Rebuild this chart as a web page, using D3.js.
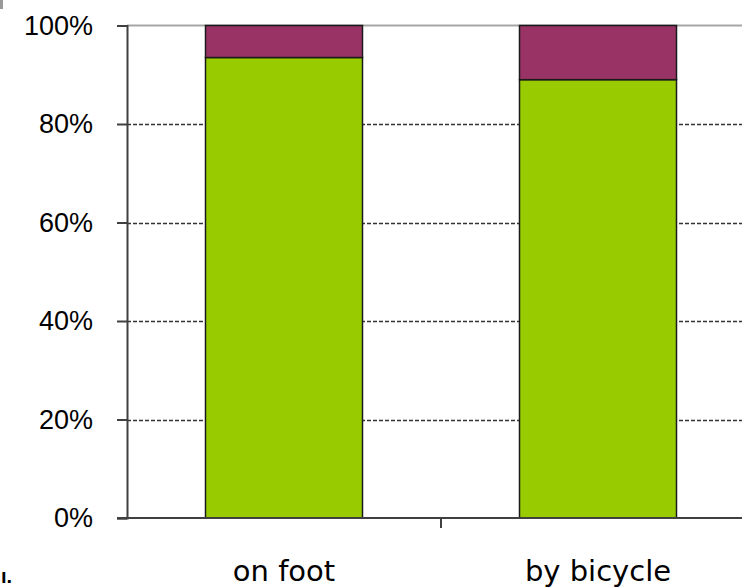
<!DOCTYPE html>
<html>
<head>
<meta charset="utf-8">
<script src="https://cdn.jsdelivr.net/npm/d3@7"></script>
<style>
  body { margin: 0; background: #fff; }
  svg { display: block; }
</style>
</head>
<body>
<div id="chart"></div>
<script>
// chart data
const categories = ['on foot', 'by bicycle'];
const seriesLower = [0.935, 0.89];   // green part
const seriesUpper = [0.065, 0.11];   // purple part
const tickValues = [0, 0.2, 0.4, 0.6, 0.8, 1];

const width = 742, height = 587;
const plotLeft = 127, plotRight = 755, plotTop = 25.5, plotBottom = 518;

const svg = d3.select('#chart').append('svg')
  .attr('width', width)
  .attr('height', height);

const y = d3.scaleLinear().domain([0, 1]).range([plotBottom, plotTop]);
const x = d3.scaleBand()
  .domain(categories)
  .range([plotLeft, plotRight])
  .paddingInner(0.5)
  .paddingOuter(0.25);

// dashed gridlines
svg.append('g')
  .selectAll('line')
  .data(tickValues.filter(d => d > 0 && d < 1))
  .enter().append('line')
    .attr('x1', plotLeft).attr('x2', width)
    .attr('y1', d => Math.round(y(d)) + 0.5)
    .attr('y2', d => Math.round(y(d)) + 0.5)
    .style('stroke', '#333')
    .style('stroke-width', 1.3)
    .style('stroke-dasharray', '4,2');

// top border line
svg.append('line')
  .attr('x1', plotLeft).attr('x2', width)
  .attr('y1', y(1)).attr('y2', y(1))
  .style('stroke', '#a6a6a6')
  .style('stroke-width', 2);

// stacked bars
const stacked = categories.map((c, i) => ({
  cat: c,
  parts: [
    { y0: 0, y1: seriesLower[i], color: '#99cc00' },
    { y0: seriesLower[i], y1: seriesLower[i] + seriesUpper[i], color: '#993366' }
  ]
}));

svg.append('g')
  .selectAll('g')
  .data(stacked)
  .enter().append('g')
  .selectAll('rect')
  .data(d => d.parts.map(p => Object.assign({ cat: d.cat }, p)))
  .enter().append('rect')
    .attr('x', d => x(d.cat))
    .attr('width', x.bandwidth())
    .attr('y', d => y(d.y1))
    .attr('height', d => y(d.y0) - y(d.y1))
    .style('fill', d => d.color)
    .style('stroke', '#1a1a1a')
    .style('stroke-width', 1.5);

// y axis
const yAxis = svg.append('g')
  .attr('transform', `translate(${plotLeft},0)`)
  .call(d3.axisLeft(y).tickValues(tickValues).tickFormat(d3.format('.0%')).tickSize(10).tickPadding(24));
yAxis.select('.domain').style('stroke', '#404040').style('stroke-width', 2);
yAxis.selectAll('.tick line').style('stroke', '#404040').style('stroke-width', 2);
yAxis.selectAll('text')
  .style('font-family', 'Liberation Sans, Arial, sans-serif')
  .style('font-size', '27px')
  .style('fill', '#000');

// x axis line and category separator tick
svg.append('line')
  .attr('x1', plotLeft - 10).attr('x2', width)
  .attr('y1', plotBottom).attr('y2', plotBottom)
  .style('stroke', '#404040')
  .style('stroke-width', 2);

const step = x.step();
svg.append('g')
  .selectAll('line')
  .data(categories.slice(1))
  .enter().append('line')
    .attr('x1', d => x(d) - (step - x.bandwidth()) / 2)
    .attr('x2', d => x(d) - (step - x.bandwidth()) / 2)
    .attr('y1', plotBottom).attr('y2', plotBottom + 10)
    .style('stroke', '#404040')
    .style('stroke-width', 2);

// category labels
svg.append('g')
  .selectAll('text')
  .data(categories)
  .enter().append('text')
    .attr('x', d => x(d) + x.bandwidth() / 2)
    .attr('y', 581)
    .attr('text-anchor', 'middle')
    .style('font-family', 'DejaVu Sans, Verdana, sans-serif')
    .style('font-size', '29px')
    .style('fill', '#000')
    .text(d => d);

// stray marks at the edges of the original crop
svg.append('rect').attr('x', 0).attr('y', 0).attr('width', 3).attr('height', 9).style('fill', '#999');
svg.append('text')
  .attr('x', 1).attr('y', 583)
  .style('font-family', 'Liberation Sans, Arial, sans-serif')
  .style('font-size', '20px')
  .style('font-weight', 'bold')
  .text('ı.');
</script>
</body>
</html>
